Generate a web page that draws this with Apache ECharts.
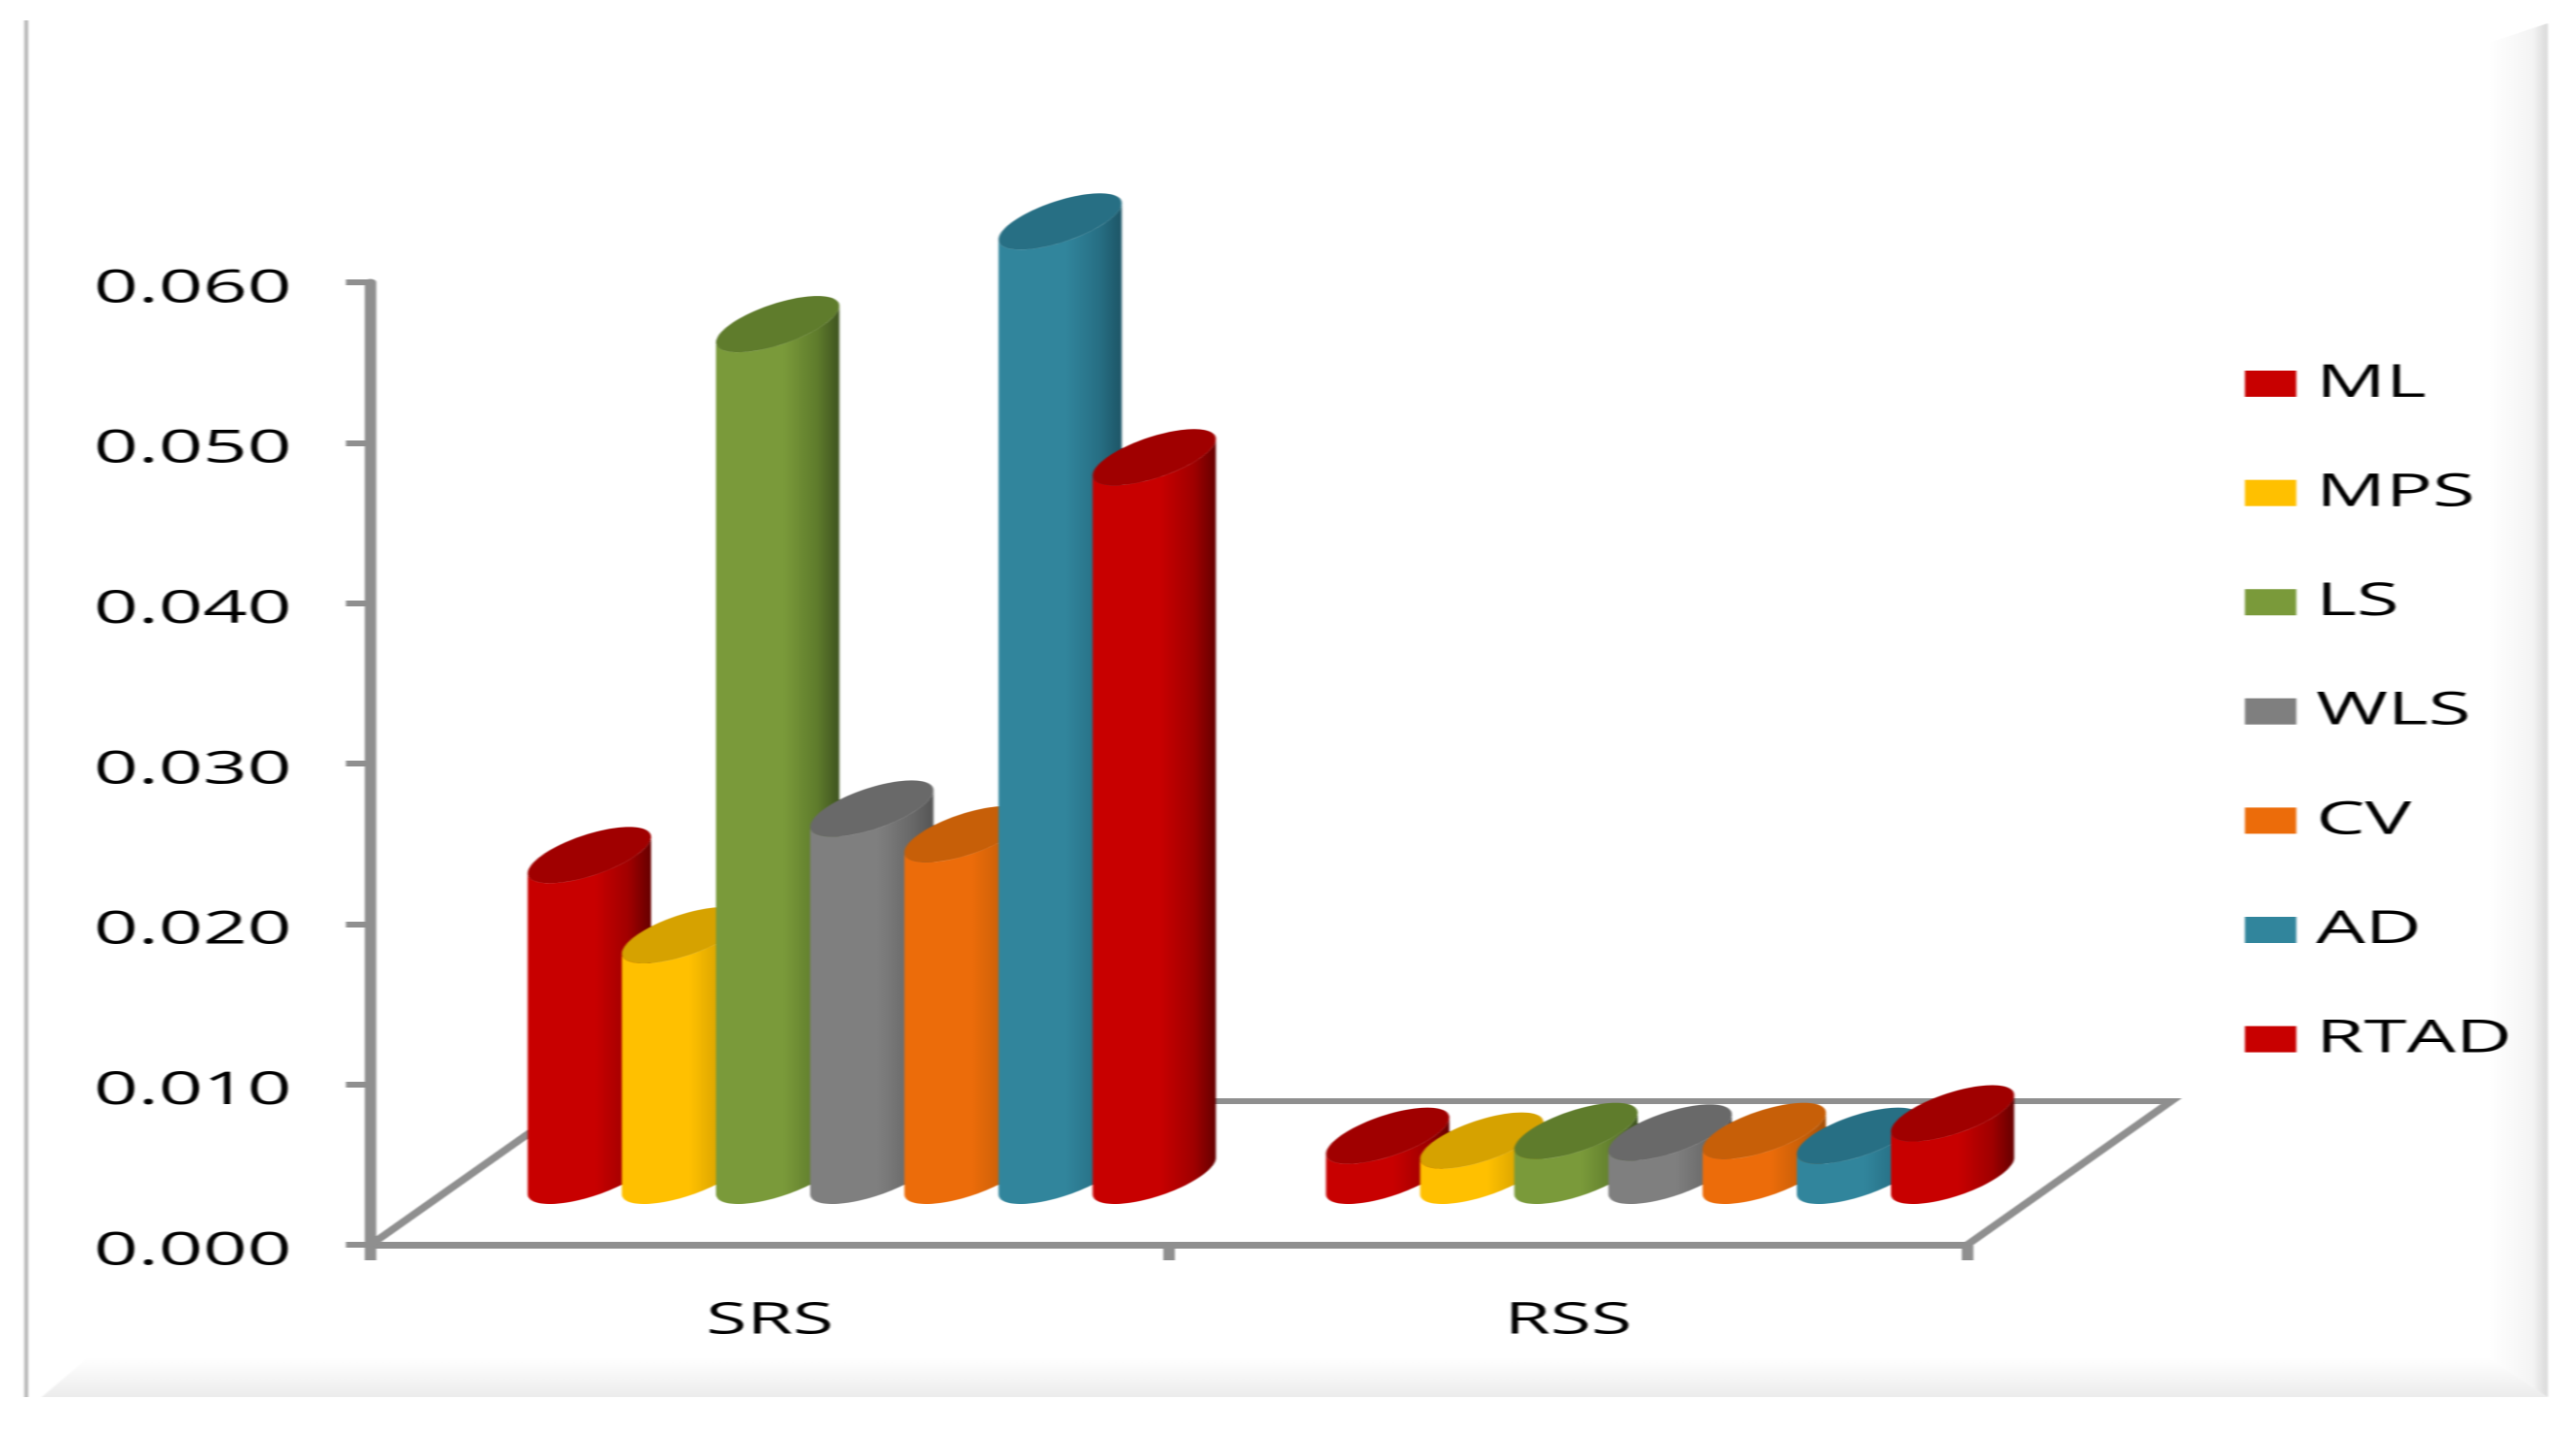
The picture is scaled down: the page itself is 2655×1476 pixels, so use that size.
<!DOCTYPE html>
<html>
<head>
<meta charset="utf-8">
<script src="https://cdn.jsdelivr.net/npm/echarts@6/dist/echarts.min.js"></script>
<style>
html,body{margin:0;padding:0;background:#fff;overflow:hidden;width:2655px;height:1476px}
#c{position:absolute;left:0;top:0;transform-origin:0 0;filter:blur(0.6px)}
</style>
</head>
<body>
<div id="c"></div>
<script>
// Data
const categories = ['SRS', 'RSS'];
const ML   = [0.0200, 0.0025];
const MPS  = [0.0150, 0.0022];
const LS   = [0.0531, 0.0028];
const WLS  = [0.0229, 0.0027];
const CV   = [0.0213, 0.0028];
const AD   = [0.0595, 0.0025];
const RTAD = [0.0448, 0.0039];
const methodNames = ['ML', 'MPS', 'LS', 'WLS', 'CV', 'AD', 'RTAD'];
const methodValues = [ML, MPS, LS, WLS, CV, AD, RTAD];
const bodyColors = ['#c80000', '#ffc000', '#7a9a3a', '#7f7f7f', '#ec6c0a', '#31859c', '#c80000'];
const capColors  = ['#a00000', '#d6a200', '#5f7c2c', '#696969', '#c75f08', '#276f84', '#a00000'];
const edgeColors = ['#660000', '#b58a00', '#3f5420', '#555555', '#a55008', '#1d5566', '#660000'];

// The reference is a horizontally stretched image: draw at natural proportions, stretch the page element
const STRETCH = 1.7;
const W = 2655 / STRETCH, H = 1476;
const px = x => x / STRETCH;
const el = document.getElementById('c');
el.style.width = W + 'px';
el.style.height = H + 'px';
el.style.transform = 'scaleX(' + STRETCH + ')';

const FLOOR_DX = px(210), FLOOR_DY = 148, BASE_LIFT = 71;
const U = px(97), VX = px(82), VY = 58;
const T0 = Math.atan2(VX, U);
const FONT = '"Open Sans"';

function ellipsePoints(cx, cy, from, to, n) {
  const pts = [];
  for (let i = 0; i <= n; i++) {
    const t = from + (to - from) * i / n;
    pts.push([cx + Math.cos(t) * U / 2 + Math.sin(t) * VX / 2, cy - Math.sin(t) * VY / 2]);
  }
  return pts;
}

function cylinder(idx) {
  return function (params, api) {
    const base = api.coord([api.value(0), 0]);
    const top = api.coord([api.value(0), api.value(1)]);
    const cx = base[0] + (idx - 3) * U + FLOOR_DX / 2;
    const by = base[1] - BASE_LIFT;
    const ty = top[1] - BASE_LIFT;
    const lower = ellipsePoints(cx, by, T0 + Math.PI, T0 + 2 * Math.PI, 48);
    const topLower = ellipsePoints(cx, ty, T0 + 2 * Math.PI, T0 + Math.PI, 48);
    const cap = ellipsePoints(cx, ty, 0, 2 * Math.PI, 96);
    return {
      type: 'group',
      children: [
        {
          type: 'polygon',
          shape: { points: lower.concat(topLower) },
          style: {
            fill: new echarts.graphic.LinearGradient(0, 0, 1, 0, [
              { offset: 0, color: bodyColors[idx] },
              { offset: 0.55, color: bodyColors[idx] },
              { offset: 0.82, color: capColors[idx] },
              { offset: 1, color: edgeColors[idx] }
            ])
          }
        },
        { type: 'polygon', shape: { points: cap }, style: { fill: capColors[idx] } }
      ]
    };
  };
}

function floorLines(params) {
  const g = params.coordSys;
  const y0 = g.y + g.height;
  return {
    type: 'polyline',
    shape: { points: [[g.x, y0], [g.x + FLOOR_DX, y0 - FLOOR_DY], [g.x + g.width + FLOOR_DX, y0 - FLOOR_DY], [g.x + g.width, y0]] },
    style: { fill: 'none', stroke: '#8f8f8f', lineWidth: 6 }
  };
}

const series = [{
  type: 'custom', name: 'floor', coordinateSystem: 'cartesian2d',
  renderItem: floorLines, data: [[0, 0]], silent: true, z: 1
}];
methodNames.forEach((name, i) => {
  series.push({
    type: 'custom', name: name, coordinateSystem: 'cartesian2d',
    renderItem: cylinder(i),
    itemStyle: { color: bodyColors[i] },
    encode: { x: 0, y: 1 },
    data: categories.map((c, k) => [k, methodValues[i][k]]),
    z: 2 + i
  });
});

const chart = echarts.init(el, null, { renderer: 'canvas', width: W, height: H, devicePixelRatio: 2 });
chart.setOption({
  animation: false,
  backgroundColor: '#ffffff',
  grid: { left: px(382), width: px(1645), top: 291, height: 992 },
  xAxis: {
    type: 'category', data: categories,
    axisLine: { lineStyle: { color: '#8f8f8f', width: 7 } },
    axisTick: { show: true, length: 16, lineStyle: { color: '#8f8f8f', width: 7 } },
    axisLabel: { color: '#000', fontFamily: FONT, fontSize: 45, margin: 56 }
  },
  yAxis: {
    type: 'value', min: 0, max: 0.06, interval: 0.01,
    axisLine: { show: true, lineStyle: { color: '#8f8f8f', width: 7 } },
    axisTick: { show: true, length: 15, lineStyle: { color: '#8f8f8f', width: 6 } },
    splitLine: { show: false },
    axisLabel: { color: '#000', fontFamily: FONT, fontSize: 47, margin: 48, verticalAlign: 'top', lineHeight: 14, formatter: v => v.toFixed(3) }
  },
  legend: {
    data: methodNames, orient: 'vertical', icon: 'rect', padding: 0,
    left: px(2313), top: 372,
    itemWidth: px(53), itemHeight: 27, itemGap: 65.6, itemStyle: { borderWidth: 0 },
    textStyle: { color: '#000', fontFamily: FONT, fontSize: 47, padding: [0, 0, 0, 7] }
  },
  graphic: [
    { type: 'rect', z: -10, silent: true, shape: { x: px(25), y: 21, width: px(4), height: 1419 }, style: { fill: '#b8b8b8' } },
    { type: 'polygon', z: -10, silent: true,
      shape: { points: [[px(43), 1440], [px(2625), 1440], [px(2565), 1400], [px(90), 1400]] },
      style: { fill: { type: 'linear', x: 0, y: 0, x2: 0, y2: 1, colorStops: [{ offset: 0, color: '#ffffff' }, { offset: 1, color: '#ececec' }] } } },
    { type: 'polygon', z: -10, silent: true,
      shape: { points: [[px(2625), 24], [px(2625), 1440], [px(2565), 1400], [px(2565), 44]] },
      style: { fill: { type: 'linear', x: 0, y: 0, x2: 1, y2: 0, colorStops: [{ offset: 0, color: '#ffffff' }, { offset: 0.75, color: '#f4f4f4' }, { offset: 1, color: '#d9d9d9' }] } } }
  ],
  series: series
});
</script>
</body>
</html>
